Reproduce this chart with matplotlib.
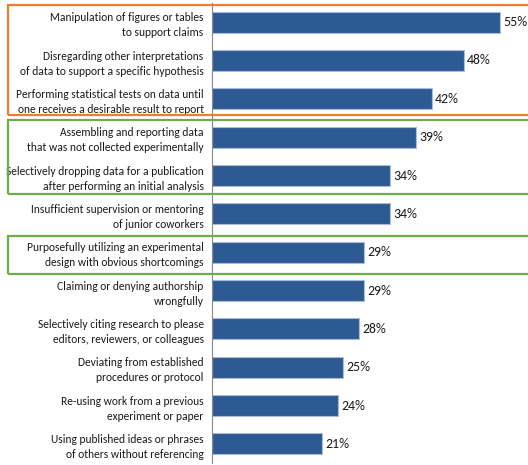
import matplotlib
matplotlib.use("Agg")
import matplotlib.pyplot as plt
from matplotlib.patches import Rectangle

labels = [
    "Manipulation of figures or tables\nto support claims",
    "Disregarding other interpretations\nof data to support a specific hypothesis",
    "Performing statistical tests on data until\none receives a desirable result to report",
    "Assembling and reporting data\nthat was not collected experimentally",
    "Selectively dropping data for a publication\nafter performing an initial analysis",
    "Insufficient supervision or mentoring\nof junior coworkers",
    "Purposefully utilizing an experimental\ndesign with obvious shortcomings",
    "Claiming or denying authorship\nwrongfully",
    "Selectively citing research to please\neditors, reviewers, or colleagues",
    "Deviating from established\nprocedures or protocol",
    "Re-using work from a previous\nexperiment or paper",
    "Using published ideas or phrases\nof others without referencing",
]
values = [55, 48, 42, 39, 34, 34, 29, 29, 28, 25, 24, 21]

FONT = ["Carlito", "DejaVu Sans"]
W, H = 528, 465

fig = plt.figure(figsize=(W / 100, H / 100), dpi=100)
ax = fig.add_axes([212 / W, 2 / H, 1 - 212 / W, 460 / H])

y = list(range(len(values)))
ax.barh(y, values, height=0.54, color="#2E5A94", edgecolor="#A9BCD8", linewidth=0.8)
for yi, v in zip(y, values):
    ax.text(v + 0.6, yi, f"{v}%", va="center", ha="left", fontsize=10,
            family=FONT, color="#1a1a1a")

ax.set_xlim(0, 60.3)
ax.set_ylim(len(values) - 0.5, -0.5)
ax.set_yticks(y)
ax.set_yticklabels(labels, fontsize=8.3, family=FONT, color="#1a1a1a", linespacing=1.45)
ax.tick_params(axis="y", length=0, pad=6)
ax.set_xticks([])
for side in ["top", "right", "bottom"]:
    ax.spines[side].set_visible(False)
ax.spines["left"].set_color("#888888")
ax.spines["left"].set_linewidth(0.8)

# highlight boxes (pixel coords from top)
boxes = [(5, 115, "#ED7D31"), (120, 194, "#70AD47"), (236, 274, "#70AD47")]
for top, bottom, col in boxes:
    fig.patches.append(Rectangle((8 / W, 1 - bottom / H), (W - 8 + 5) / W, (bottom - top) / H,
                                 transform=fig.transFigure, fill=False,
                                 edgecolor=col, linewidth=1.6))

fig.savefig("out.png", dpi=100)
